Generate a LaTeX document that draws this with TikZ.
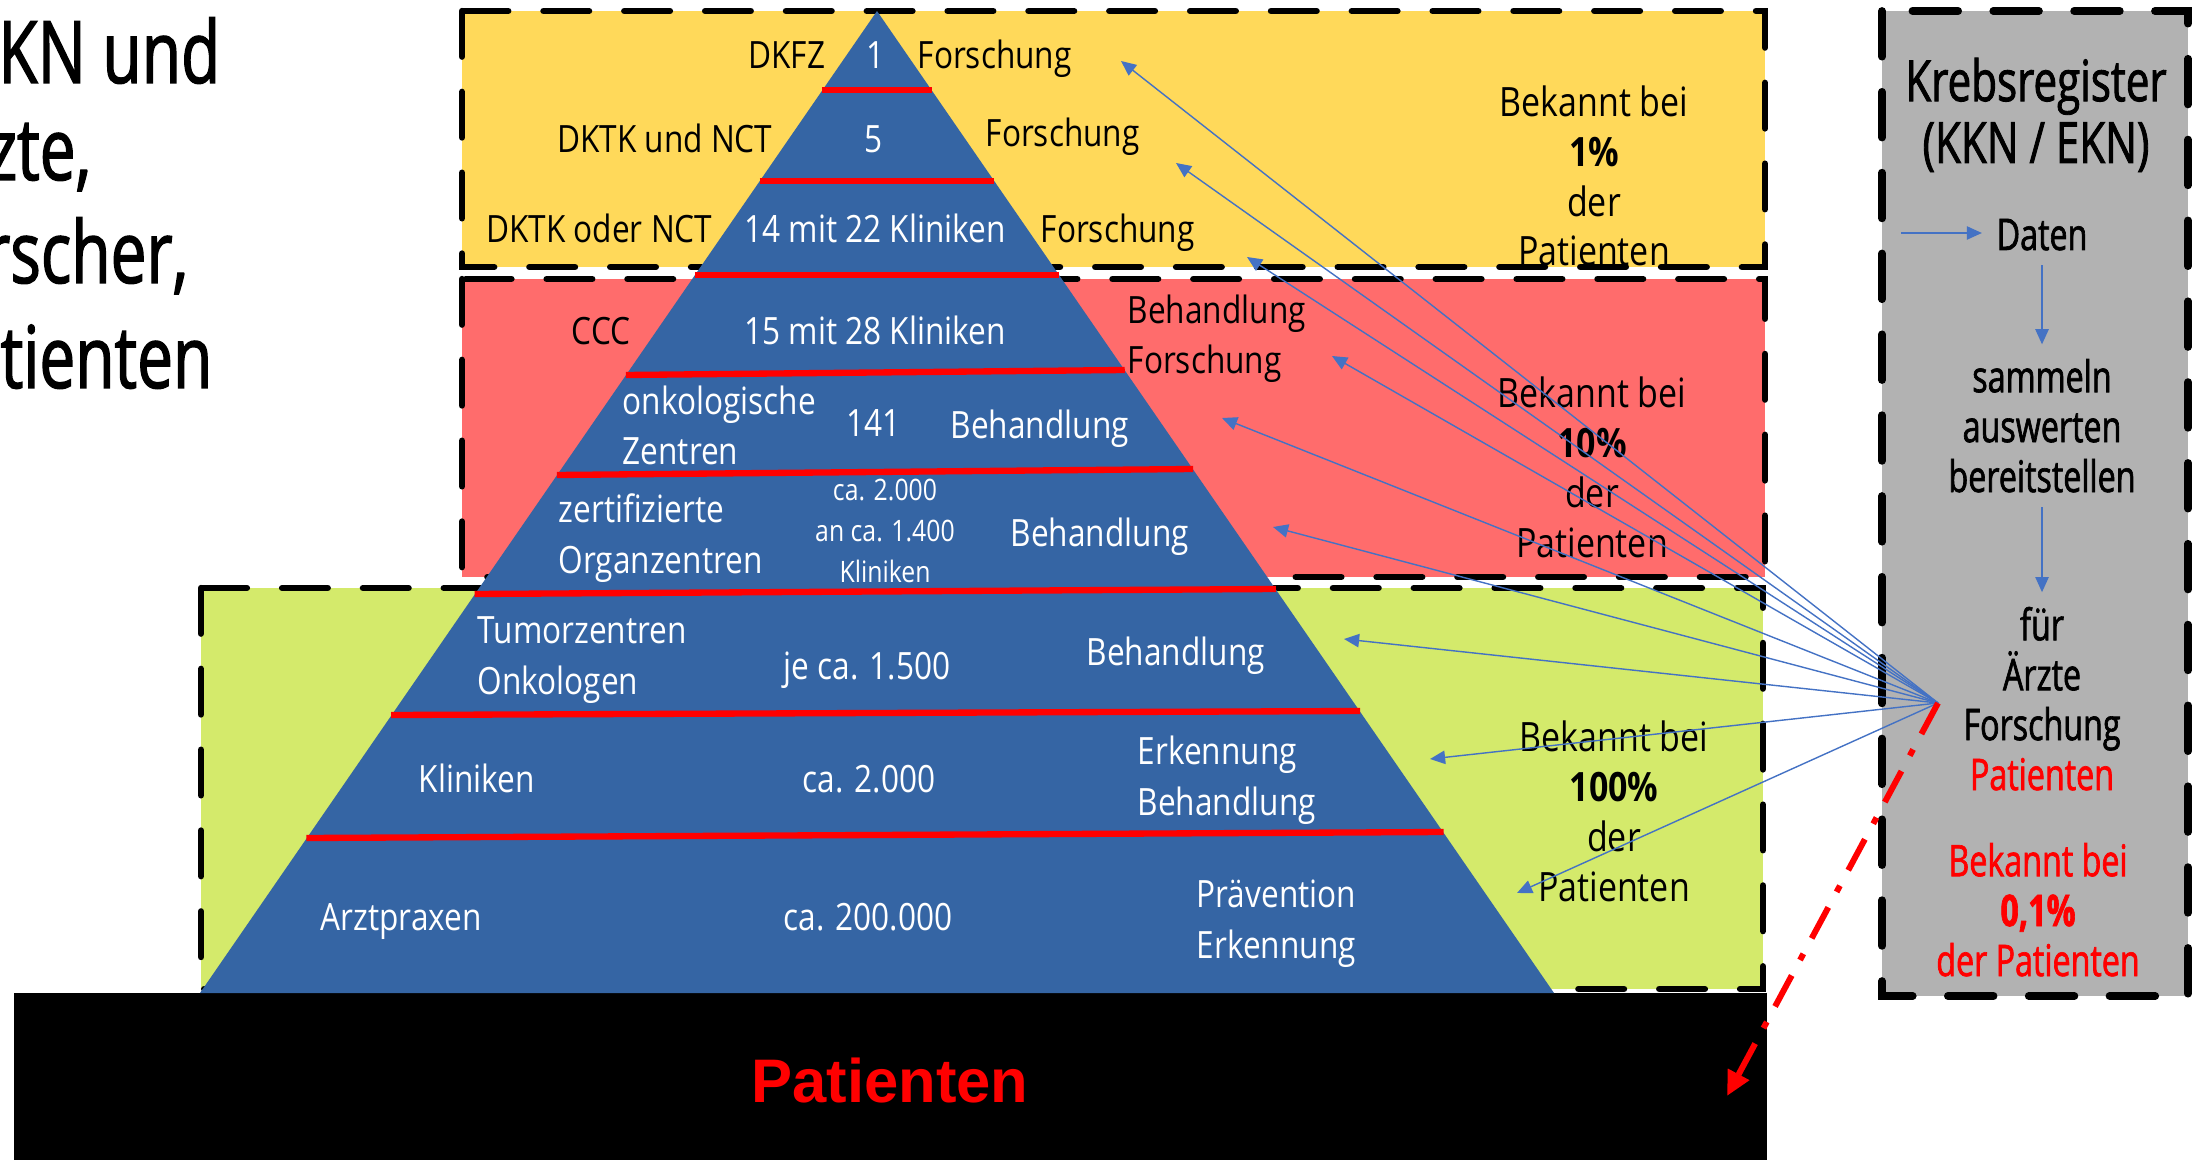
\documentclass[tikz,border=0pt]{standalone}
\usepackage{fontspec}
\setmainfont{Open Sans}
\newfontfamily\pyrfont[FakeStretch=0.84]{Open Sans}
\newfontfamily\regfont[FakeStretch=0.74,FakeBold=1.5]{Open Sans}
\newfontfamily\patfont{Liberation Sans}
\usetikzlibrary{arrows.meta}
\definecolor{pyrblue}{RGB}{53,101,164}
\definecolor{topgelb}{RGB}{255,217,90}
\definecolor{midrot}{RGB}{255,108,108}
\definecolor{basisgruen}{RGB}{212,234,107}
\definecolor{regrau}{RGB}{178,178,178}
\definecolor{pfeilblau}{RGB}{68,114,196}
\tikzset{
  zone/.style={line width=1.8pt, dash pattern=on 13pt off 10pt, line cap=round},
  wtxt/.style={white, inner sep=0pt, align=left, font=\pyrfont\fontsize{10.7}{14.4}\selectfont},
  btxt/.style={black, inner sep=0pt, align=left, font=\pyrfont\fontsize{10.7}{14.4}\selectfont},
  ktxt/.style={white, inner sep=0pt, align=center, font=\pyrfont\fontsize{8.4}{11.6}\selectfont},
  bek/.style={black, inner sep=0pt, align=center, font=\pyrfont\fontsize{11.5}{14.2}\selectfont},
  reg/.style={black, inner sep=4pt, align=center, font=\regfont\fontsize{12.4}{14.2}\selectfont},
  gross/.style={black, inner sep=0pt, font=\regfont\fontsize{24.6}{29}\selectfont},
  link/.style={pfeilblau, line width=0.4pt, -{Triangle[length=4.3pt,width=3.8pt]}},
}
\begin{document}
\begin{tikzpicture}[x=0.1mm,y=-0.1mm]
\useasboundingbox (0,0) rectangle (2195,1160);
% Felder
\draw[zone,fill=topgelb] (462,11) rectangle (1765,267);
\draw[zone,fill=midrot] (462,279) rectangle (1765,577);
\draw[zone,fill=basisgruen] (201,588) rectangle (1763,989);
\fill[black] (14,993) rectangle (1767,1160);
\draw[zone,line width=2.2pt,fill=regrau] (1882,11) rectangle (2188,996);
% Pyramide
\fill[pyrblue] (877,11) -- (200,993) -- (1554,993) -- cycle;
\foreach \yl/\yr in {90/90,181/181,275/275,375/370,475/469,594/589,715/711,838/832}
  \draw[red,line width=1.8pt] ({877-0.6901*(\yl-11)},\yl) -- ({877+0.6901*(\yr-11)},\yr);

\node[gross,anchor=base east] (kn) at (221,83) {KN und};
\node[gross,anchor=base east] (zte) at (92,180) {zte,};
\node[gross,anchor=base east] (rscher) at (189,283) {rscher,};
\node[gross,anchor=base east] (tienten) at (213,388) {tienten};

\node[btxt,anchor=base east] (dkfz) at (826,69) {DKFZ};
\node[wtxt,anchor=base] (n1) at (876,69) {1};
\node[btxt,anchor=base west] (f1) at (917,69) {Forschung};
\node[btxt,anchor=base east] (dktkund) at (773,153) {DKTK und NCT};
\node[wtxt,anchor=base] (n5) at (874,153) {5};
\node[btxt,anchor=base west] (f2) at (985,147) {Forschung};
\node[btxt,anchor=base east] (dktkoder) at (713,243) {DKTK oder NCT};
\node[wtxt,anchor=base] (n14) at (875,243) {14 mit 22 Kliniken};
\node[btxt,anchor=base west] (f3) at (1040,243) {Forschung};

\node[btxt,anchor=base east] (ccc) at (631,345) {CCC};
\node[wtxt,anchor=base] (n15) at (875,345) {15 mit 28 Kliniken};
\node[btxt,anchor=base west] (bf) at (1127,374) {Behandlung\\Forschung};
\node[wtxt,anchor=base west] (onko) at (622,465) {onkologische\\Zentren};
\node[wtxt,anchor=base west] (n141) at (846,437) {141};
\node[wtxt,anchor=base west] (b141) at (950,439) {Behandlung};
\node[wtxt,anchor=base west] (zert) at (558,573) {zertifizierte\\Organzentren};
\node[ktxt,anchor=base] (n2000) at (885,582) {ca. 2.000\\an ca. 1.400\\Kliniken};
\node[wtxt,anchor=base west] (borg) at (1010,546) {Behandlung};

\node[wtxt,anchor=base west] (tumor) at (477,694) {Tumorzentren\\Onkologen};
\node[wtxt,anchor=base west] (n1500) at (783,679) {je ca. 1.500};
\node[wtxt,anchor=base west] (btumor) at (1086,665) {Behandlung};
\node[wtxt,anchor=base west] (klin) at (418,792) {Kliniken};
\node[wtxt,anchor=base west] (nklin) at (802,792) {ca. 2.000};
\node[wtxt,anchor=base west] (eb) at (1137,815) {Erkennung\\Behandlung};
\node[wtxt,anchor=base west] (arzt) at (320,930) {Arztpraxen};
\node[wtxt,anchor=base west] (narzt) at (783,930) {ca. 200.000};
\node[wtxt,anchor=base west] (pe) at (1196,958) {Prävention\\Erkennung};

\node[bek,anchor=base] (bek1) at (1594,266) {Bekannt bei\\\textbf{1\%}\\der\\Patienten};
\node[bek,anchor=base] (bek10) at (1592,557) {Bekannt bei\\\textbf{10\%}\\der\\Patienten};
\node[bek,anchor=base] (bek100) at (1614,901) {Bekannt bei\\\textbf{100\%}\\der\\Patienten};

\node[red,font=\patfont\bfseries\fontsize{17.5}{20}\selectfont,anchor=base,inner sep=0pt] (pat) at (890,1102) {Patienten};

% Krebsregister
\node[reg,anchor=base,font=\regfont\fontsize{16.2}{17.6}\selectfont] (kreg) at (2036,163) {Krebsregister\\(KKN / EKN)};
\node[reg,anchor=base] (daten) at (2042,250) {Daten};
\node[reg,anchor=base] (sam) at (2042,492) {sammeln\\auswerten\\bereitstellen};
\node[reg,anchor=base] (fuer) at (2042,790) {für\\Ärzte\\Forschung\\\textcolor{red}{Patienten}};
\node[reg,anchor=base,text=red] (bek01) at (2038,976) {Bekannt bei\\\textbf{0,1\%}\\der Patienten};
\coordinate (datin) at (1901,233);
\draw[link] (datin) -- (datin -| daten.west);
\draw[link] (daten.south) -- (sam.north);
\draw[link] (sam.south) -- (fuer.north);

\coordinate (hub) at (1938,703);
\foreach \x/\y [count=\i] in {1121/61,1176/163,1247/257,1332/356,1222/418,1273/527,1344/639,1430/759,1517/893}{
  \coordinate (z\i) at (\x,\y);
  \draw[link] (hub) -- (z\i);
}
\coordinate (redtip) at (1727,1096);
\draw[red,line width=1.7pt,dash pattern=on 10pt off 5pt on 2pt off 5pt,-{Triangle[length=7pt,width=6.5pt]}] (hub) -- (redtip);
\end{tikzpicture}
\end{document}
